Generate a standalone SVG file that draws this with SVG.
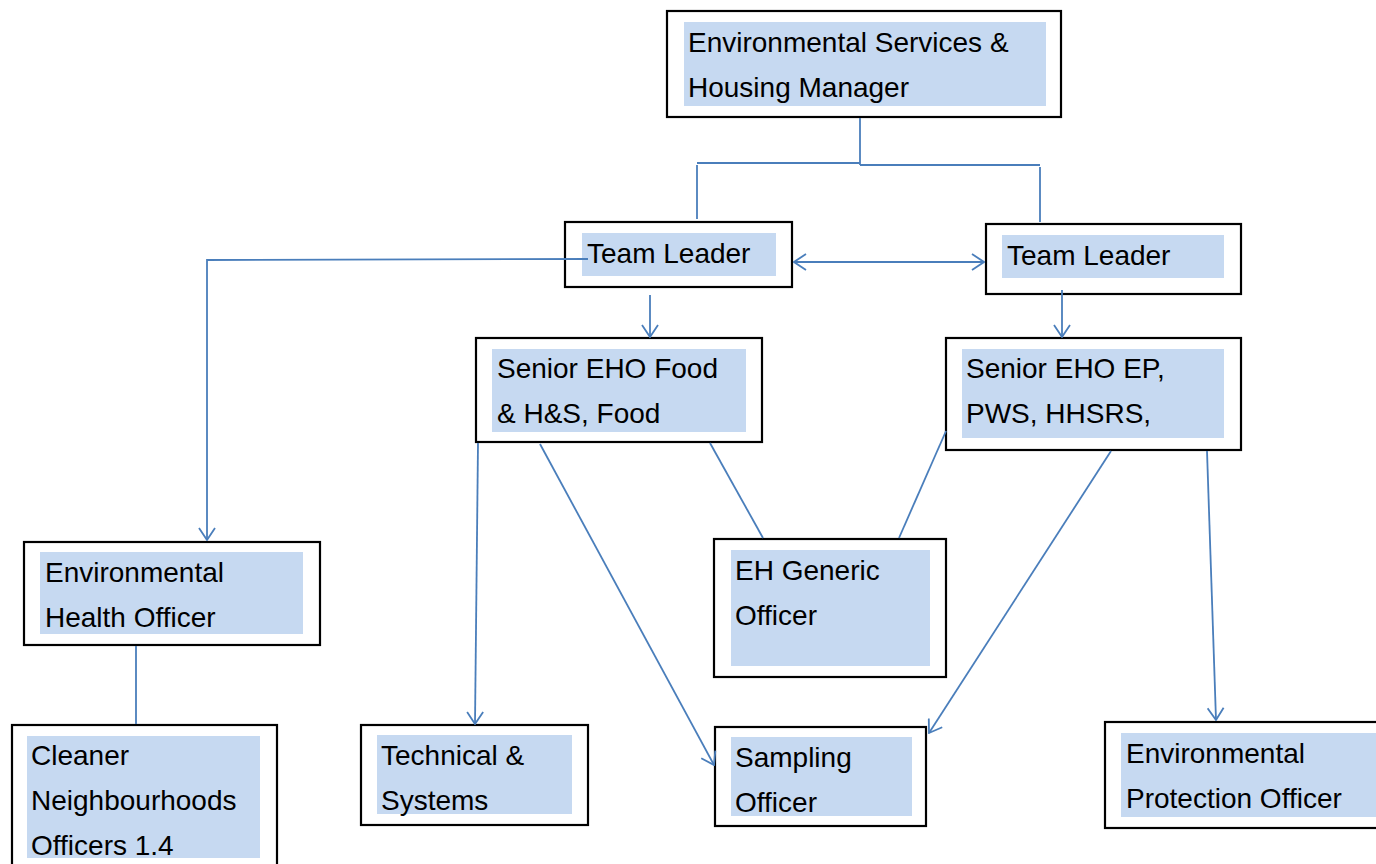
<svg xmlns="http://www.w3.org/2000/svg" width="1376" height="864" viewBox="0 0 1376 864">
  <style>
    .box { fill: #ffffff; stroke: #000000; stroke-width: 2.2; }
    .fill { fill: #c6d9f1; stroke: none; }
    .label { font-family: "Liberation Sans", Arial, sans-serif; font-size: 28px; fill: #000000; }
    .link { fill: none; stroke: #4a7ebb; stroke-width: 1.8; }
    .arrow { marker-end: url(#open); }
  </style>
  <defs>
    <marker id="open" viewBox="0 0 14 18" refX="13" refY="9" markerWidth="14" markerHeight="18" markerUnits="userSpaceOnUse" orient="auto-start-reverse">
      <path d="M1,1 L13,9 L1,17" fill="none" stroke="#4a7ebb" stroke-width="1.8"/>
    </marker>
  </defs>
  <rect width="1376" height="864" fill="#ffffff"/>

  <g id="manager">
    <rect class="box" x="667" y="11" width="394" height="106"/>
    <rect class="fill" x="684" y="22" width="362" height="84"/>
    <text class="label" x="688" y="52">Environmental Services &amp;</text>
    <text class="label" x="688" y="97">Housing Manager</text>
  </g>

  <g id="team-leader-left">
    <rect class="box" x="565" y="222" width="227" height="65"/>
    <rect class="fill" x="582" y="233" width="194" height="43"/>
    <text class="label" x="587" y="263">Team Leader</text>
  </g>

  <g id="team-leader-right">
    <rect class="box" x="986" y="224" width="255" height="70"/>
    <rect class="fill" x="1002" y="235" width="222" height="43"/>
    <text class="label" x="1007" y="265">Team Leader</text>
  </g>

  <g id="senior-food">
    <rect class="box" x="476" y="338" width="286" height="104"/>
    <rect class="fill" x="492" y="349" width="254" height="83"/>
    <text class="label" x="497" y="378">Senior EHO Food</text>
    <text class="label" x="497" y="423">&amp; H&amp;S, Food</text>
  </g>

  <g id="senior-ep">
    <rect class="box" x="946" y="338" width="295" height="112"/>
    <rect class="fill" x="962" y="349" width="262" height="89"/>
    <text class="label" x="966" y="378">Senior EHO EP,</text>
    <text class="label" x="966" y="423">PWS, HHSRS,</text>
  </g>

  <g id="eho">
    <rect class="box" x="24" y="542" width="296" height="103"/>
    <rect class="fill" x="40" y="552" width="263" height="82"/>
    <text class="label" x="45" y="582">Environmental</text>
    <text class="label" x="45" y="627">Health Officer</text>
  </g>

  <g id="eh-generic">
    <rect class="box" x="714" y="539" width="232" height="138"/>
    <rect class="fill" x="731" y="550" width="199" height="116"/>
    <text class="label" x="735" y="580">EH Generic</text>
    <text class="label" x="735" y="625">Officer</text>
  </g>

  <g id="cleaner-neighbourhoods">
    <rect class="box" x="12" y="725" width="265" height="150"/>
    <rect class="fill" x="27" y="736" width="233" height="122"/>
    <text class="label" x="31" y="765">Cleaner</text>
    <text class="label" x="31" y="810">Neighbourhoods</text>
    <text class="label" x="31" y="855">Officers 1.4</text>
  </g>

  <g id="technical">
    <rect class="box" x="361" y="725" width="227" height="100"/>
    <rect class="fill" x="377" y="735" width="195" height="79"/>
    <text class="label" x="381" y="765">Technical &amp;</text>
    <text class="label" x="381" y="810">Systems</text>
  </g>

  <g id="sampling">
    <rect class="box" x="715" y="727" width="211" height="99"/>
    <rect class="fill" x="731" y="737" width="181" height="79"/>
    <text class="label" x="735" y="767">Sampling</text>
    <text class="label" x="735" y="812">Officer</text>
  </g>

  <g id="protection">
    <rect class="box" x="1105" y="722" width="290" height="106"/>
    <rect class="fill" x="1121" y="733" width="260" height="84"/>
    <text class="label" x="1126" y="763">Environmental</text>
    <text class="label" x="1126" y="808">Protection Officer</text>
  </g>

  <g id="connectors">
    <!-- manager to both team leaders -->
    <polyline class="link" points="860,118 860,165"/>
    <polyline class="link" points="697,163 860,163"/>
    <polyline class="link" points="860,165 1040,165"/>
    <polyline class="link" points="697,165 697,219"/>
    <polyline class="link" points="1040,167 1040,222"/>
    <!-- between team leaders -->
    <line class="link" x1="794" y1="262" x2="984" y2="262" marker-start="url(#open)" marker-end="url(#open)"/>
    <!-- team leader (left) to EHO -->
    <polyline class="link arrow" points="588,259 207,260 207,540"/>
    <!-- team leaders to seniors -->
    <line class="link arrow" x1="650" y1="295" x2="650" y2="337"/>
    <line class="link arrow" x1="1062" y1="290" x2="1062" y2="337"/>
    <!-- senior food -->
    <line class="link arrow" x1="478" y1="443" x2="475" y2="724"/>
    <line class="link arrow" x1="540" y1="444" x2="714" y2="765"/>
    <line class="link" x1="710" y1="443" x2="763" y2="538"/>
    <!-- senior EP -->
    <line class="link" x1="946" y1="431" x2="899" y2="538"/>
    <line class="link arrow" x1="1111" y1="451" x2="929" y2="733"/>
    <line class="link arrow" x1="1207" y1="451" x2="1216" y2="720"/>
    <!-- EHO to cleaner neighbourhoods -->
    <line class="link" x1="136" y1="646" x2="136" y2="724"/>
  </g>
</svg>
